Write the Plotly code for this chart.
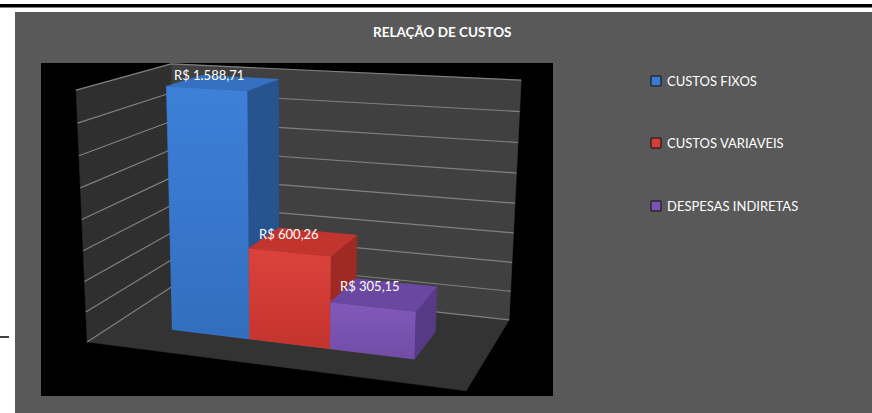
import math
import plotly.graph_objects as go

# ---- data -------------------------------------------------------------
series = ["CUSTOS FIXOS", "CUSTOS VARIAVEIS", "DESPESAS INDIRETAS"]
values = [1588.71, 600.26, 305.15]
value_labels = ["R$ 1.588,71", "R$ 600,26", "R$ 305,15"]
axis_max = 1600
axis_step = 200

# ---- styling ----------------------------------------------------------
front_light = ["#3d80d8", "#dc423c", "#8259bb"]
front_dark = ["#326ebf", "#c4332e", "#714ca6"]
side_colors = ["#27548f", "#9e2925", "#573a85"]
top_colors = ["#3670c0", "#c2352f", "#6a47a0"]
legend_colors = ["#3a79cd", "#d43c36", "#7b54b2"]

W, H = 872, 413

# ---- 3-D projection (perspective camera, yaw 20 deg, pitch 15.6 deg) -
YAW = math.radians(20)
PITCH = math.radians(15.6)
FOCAL = 1271.0
CX, CY = 283.0, 255.0
ORIGIN = (-0.510, 0.2264, 3.31)   # floor front-left corner, camera space

BASE_W = 1.0                      # category width
BAR_W = BASE_W / (3 + 1.5)        # gap width 150 %
DEPTH = BAR_W * 2.5               # gap depth 150 %
WALL_H = 0.657                    # wall height for axis_max


def proj(X, Y, Z):
    a = ORIGIN[0] + X * math.cos(YAW) + Y * math.sin(YAW)
    h = -X * math.sin(YAW) + Y * math.cos(YAW)
    b = ORIGIN[1] - (Z * math.cos(PITCH) + h * math.sin(PITCH))
    c = ORIGIN[2] + (-Z * math.sin(PITCH) + h * math.cos(PITCH))
    return CX + FOCAL * a / c, CY + FOCAL * b / c


def zval(v):
    return v / axis_max * WALL_H


def poly(pts, color, name=None, gradient=None):
    xy = [proj(*p) for p in pts]
    xs = [q[0] for q in xy] + [xy[0][0]]
    ys = [q[1] for q in xy] + [xy[0][1]]
    kw = {}
    if gradient:
        # lighter near the top of the face, darker toward its base
        kw["fillgradient"] = dict(type="vertical",
                                  colorscale=[[0, gradient[1]], [1, gradient[0]]])
    return go.Scatter(x=xs, y=ys, mode="lines", fill="toself",
                      fillcolor=color, line=dict(color=color, width=0.6),
                      hoverinfo="skip", showlegend=False, name=name or "", **kw)


fig = go.Figure()

# walls and floor
fig.add_trace(poly([(0, 0, 0), (BASE_W, 0, 0), (BASE_W, DEPTH, 0), (0, DEPTH, 0)], "#333333"))
fig.add_trace(poly([(0, 0, 0), (0, DEPTH, 0), (0, DEPTH, WALL_H), (0, 0, WALL_H)], "#2f2f2f"))
fig.add_trace(poly([(0, DEPTH, 0), (BASE_W, DEPTH, 0), (BASE_W, DEPTH, WALL_H), (0, DEPTH, WALL_H)], "#404040"))

# gridlines on the walls
gx, gy = [], []
v = 0
while v <= axis_max + 1e-9:
    z = zval(v)
    for p0, p1 in (((0, 0, z), (0, DEPTH, z)), ((0, DEPTH, z), (BASE_W, DEPTH, z))):
        a0, a1 = proj(*p0), proj(*p1)
        gx += [a0[0], a1[0], None]
        gy += [a0[1], a1[1], None]
    v += axis_step
fig.add_trace(go.Scatter(x=gx, y=gy, mode="lines",
                         line=dict(color="#808080", width=1.2),
                         hoverinfo="skip", showlegend=False))

# bars
x_start = (BASE_W - 3 * BAR_W) / 2
y0 = (DEPTH - BAR_W) / 2
y1 = y0 + BAR_W
annotations = []
for i, (name, val) in enumerate(zip(series, values)):
    x0 = x_start + i * BAR_W
    x1 = x0 + BAR_W
    z1 = zval(val)
    fig.add_trace(poly([(x0, y0, 0), (x1, y0, 0), (x1, y0, z1), (x0, y0, z1)], front_light[i], name,
                       gradient=(front_light[i], front_dark[i])))
    fig.add_trace(poly([(x1, y0, 0), (x1, y1, 0), (x1, y1, z1), (x1, y0, z1)], side_colors[i], name))
    fig.add_trace(poly([(x0, y0, z1), (x1, y0, z1), (x1, y1, z1), (x0, y1, z1)], top_colors[i], name))
    lx, ly = proj((x0 + x1) / 2, (y0 + y1) / 2, z1)
    annotations.append(dict(x=lx - 15, y=ly - 8, xref="x", yref="y",
                            text=value_labels[i], showarrow=False,
                            font=dict(family="Lato", size=13, color="#ffffff"),
                            xanchor="center", yanchor="middle"))

# title
annotations.append(dict(x=442, y=32, xref="x", yref="y", text="<b>RELAÇÃO DE CUSTOS</b>",
                        showarrow=False, font=dict(family="Lato", size=13.5, color="#ffffff"),
                        xanchor="center", yanchor="middle"))

# page frame, chart area, plot area
shapes = [
    dict(type="rect", xref="x", yref="y", x0=0, x1=W, y0=0, y1=H,
         fillcolor="#ffffff", line=dict(width=0), layer="below"),
    dict(type="rect", xref="x", yref="y", x0=0, x1=W, y0=4, y1=7.5,
         fillcolor="#000000", line=dict(width=0), layer="below"),
    dict(type="rect", xref="x", yref="y", x0=15, x1=W, y0=12, y1=H,
         fillcolor="#595959", line=dict(width=0), layer="below"),
    dict(type="rect", xref="x", yref="y", x0=41, x1=553, y0=63, y1=396,
         fillcolor="#000000", line=dict(width=0), layer="below"),
    dict(type="line", xref="x", yref="y", x0=0, x1=9, y0=337, y1=337,
         line=dict(color="#000000", width=1.5), layer="below"),
]

# legend
legend_y = [81, 143, 206]
for i, name in enumerate(series):
    cy = legend_y[i]
    shapes.append(dict(type="rect", xref="x", yref="y", x0=651, x1=661, y0=cy - 5, y1=cy + 5,
                       fillcolor=legend_colors[i], line=dict(color="#111111", width=1)))
    annotations.append(dict(x=665, y=cy, xref="x", yref="y", text=name, showarrow=False,
                            font=dict(family="Lato", size=13, color="#ffffff"),
                            xanchor="left", yanchor="middle"))

fig.update_layout(
    width=W, height=H,
    margin=dict(l=0, r=0, t=0, b=0),
    paper_bgcolor="#ffffff", plot_bgcolor="rgba(0,0,0,0)",
    xaxis=dict(range=[0, W], visible=False, fixedrange=True),
    yaxis=dict(range=[H, 0], visible=False, fixedrange=True),
    shapes=shapes, annotations=annotations, showlegend=False,
)

fig.write_html("out.html", config=dict(displayModeBar=False))
